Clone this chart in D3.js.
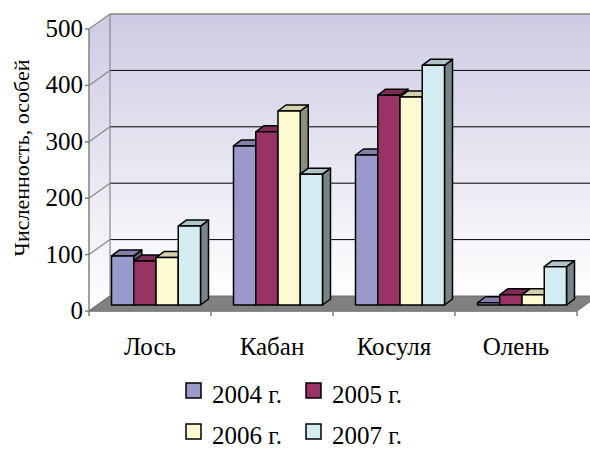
<!DOCTYPE html>
<html>
<head>
<meta charset="UTF-8">
<style>
  body { margin: 0; background: #fff; }
</style>
</head>
<body>
<script src="https://d3js.org/d3.v7.min.js"></script>
<script>
const categories = ["Лось", "Кабан", "Косуля", "Олень"];
const series = ["2004 г.", "2005 г.", "2006 г.", "2007 г."];
const values2004 = [87, 282, 266, 4];
const values2005 = [78, 307, 372, 18];
const values2006 = [84, 344, 369, 18];
const values2007 = [140, 232, 425, 68];
const yTicks = [0, 100, 200, 300, 400, 500];
const colors = ["#9999cc", "#993366", "#fdf9d0", "#d2ecf2"];

const allValues = [values2004, values2005, values2006, values2007];

const width = 590, height = 449;
const svg = d3.select("body").append("svg")
    .attr("width", width).attr("height", height);

// front plane of the plot
const x0 = 89, x1 = 577, yBase = 311, yTop = 29;
// depth of the walls and of the bars
const wallDx = 21, wallDy = -15;
const barShiftX = 6, barShiftY = -6;
const barDx = 8, barDy = -6;

const x = d3.scaleBand().domain(categories).range([x0, x1]);
const groupW = 89;
const xs = d3.scaleBand().domain(series).range([0, groupW]);
const y = d3.scaleLinear().domain([0, 500]).range([yBase, yTop]);

// gradient for walls
const defs = svg.append("defs");
const grad = defs.append("linearGradient").attr("id", "wall")
    .attr("x1", 0).attr("y1", 0).attr("x2", 0).attr("y2", 1);
grad.append("stop").attr("offset", "0%").attr("stop-color", "#cdcbe3");
grad.append("stop").attr("offset", "100%").attr("stop-color", "#ffffff");

// back wall
svg.append("rect")
    .attr("x", x0 + wallDx).attr("y", yTop + wallDy)
    .attr("width", width - x0 - wallDx + 10).attr("height", yBase - yTop)
    .attr("fill", "url(#wall)");
// side wall
svg.append("path")
    .attr("d", `M${x0},${yTop}L${x0 + wallDx},${yTop + wallDy}L${x0 + wallDx},${yBase + wallDy}L${x0},${yBase}Z`)
    .attr("fill", "url(#wall)");

// grid lines
yTicks.forEach(t => {
    const yy = y(t);
    if (t > 0) {
        svg.append("line")
            .attr("x1", x0 + wallDx).attr("x2", width)
            .attr("y1", yy + wallDy).attr("y2", yy + wallDy)
            .attr("stroke", t === 500 ? "#888" : "#000").attr("stroke-width", t === 500 ? 1.5 : 1);
    }
    svg.append("line")
        .attr("x1", x0).attr("y1", yy)
        .attr("x2", x0 + wallDx).attr("y2", yy + wallDy)
        .attr("stroke", "#888").attr("stroke-width", 1.2);
});
svg.append("line")
    .attr("x1", x0 + wallDx).attr("x2", x0 + wallDx)
    .attr("y1", yTop + wallDy).attr("y2", yBase + wallDy)
    .attr("stroke", "#888").attr("stroke-width", 1.2);

// floor
svg.append("path")
    .attr("d", `M${x0},${yBase}L${x1},${yBase}L${x1 + wallDx},${yBase + wallDy}L${x0 + wallDx},${yBase + wallDy}Z`)
    .attr("fill", "#808080").attr("stroke", "#6a6a6a").attr("stroke-width", 1);

// axes
svg.append("line").attr("x1", x0).attr("x2", x0).attr("y1", yTop).attr("y2", yBase)
    .attr("stroke", "#808080").attr("stroke-width", 1.5);
svg.append("line").attr("x1", x0).attr("x2", x1).attr("y1", yBase).attr("y2", yBase)
    .attr("stroke", "#808080").attr("stroke-width", 1.5);
yTicks.forEach(t => {
    svg.append("line").attr("x1", x0 - 4).attr("x2", x0)
        .attr("y1", y(t)).attr("y2", y(t)).attr("stroke", "#808080").attr("stroke-width", 1.5);
    svg.append("text").attr("font-family", "Liberation Serif")
        .attr("x", x0 - 6).attr("y", y(t) + 8)
        .attr("text-anchor", "end").attr("font-size", 25).text(t);
});
[x0].concat(categories.map(c => x(c) + x.bandwidth())).forEach(px => {
    svg.append("line").attr("x1", px).attr("x2", px).attr("y1", yBase).attr("y2", yBase + 5)
        .attr("stroke", "#808080").attr("stroke-width", 1.5);
});
categories.forEach(c => {
    svg.append("text").attr("font-family", "Liberation Serif")
        .attr("x", x(c) + x.bandwidth() / 2).attr("y", 355)
        .attr("text-anchor", "middle").attr("font-size", 25).text(c);
});

// y title
svg.append("text").attr("font-family", "Liberation Serif")
    .attr("transform", "translate(29,158) rotate(-90)")
    .attr("text-anchor", "middle").attr("font-size", 22)
    .text("Численность, особей");

// bars
const shade = (c, k) => d3.rgb(c).darker(k).formatHex();
categories.forEach((c, ci) => {
    const gx = x(c) + (x.bandwidth() - groupW) / 2 + barShiftX;
    series.forEach((s, si) => {
        const v = allValues[si][ci];
        const bx = gx + xs(s), bw = xs.bandwidth();
        const by = y(v) + barShiftY, bb = y(0) + barShiftY;
        const g = svg.append("g").attr("stroke", "#000").attr("stroke-width", 1.5)
            .attr("stroke-linejoin", "round");
        // side
        g.append("path")
            .attr("d", `M${bx + bw},${by}L${bx + bw + barDx},${by + barDy}L${bx + bw + barDx},${bb + barDy}L${bx + bw},${bb}Z`)
            .attr("fill", shade(colors[si], 1.6));
        // top
        g.append("path")
            .attr("d", `M${bx},${by}L${bx + barDx},${by + barDy}L${bx + bw + barDx},${by + barDy}L${bx + bw},${by}Z`)
            .attr("fill", shade(colors[si], 0.5));
        // front
        g.append("rect").attr("x", bx).attr("y", by).attr("width", bw).attr("height", bb - by)
            .attr("fill", colors[si]);
    });
});

// legend
const legendPos = [[186, 383], [306, 383], [186, 424], [306, 424]];
series.forEach((s, si) => {
    const [lx, ly] = legendPos[si];
    svg.append("rect").attr("x", lx).attr("y", ly).attr("width", 15).attr("height", 15)
        .attr("fill", colors[si]).attr("stroke", "#000").attr("stroke-width", 1.5);
    svg.append("text").attr("font-family", "Liberation Serif")
        .attr("x", lx + 26).attr("y", ly + 20)
        .attr("font-size", 25).text(s);
});
</script>
</body>
</html>
